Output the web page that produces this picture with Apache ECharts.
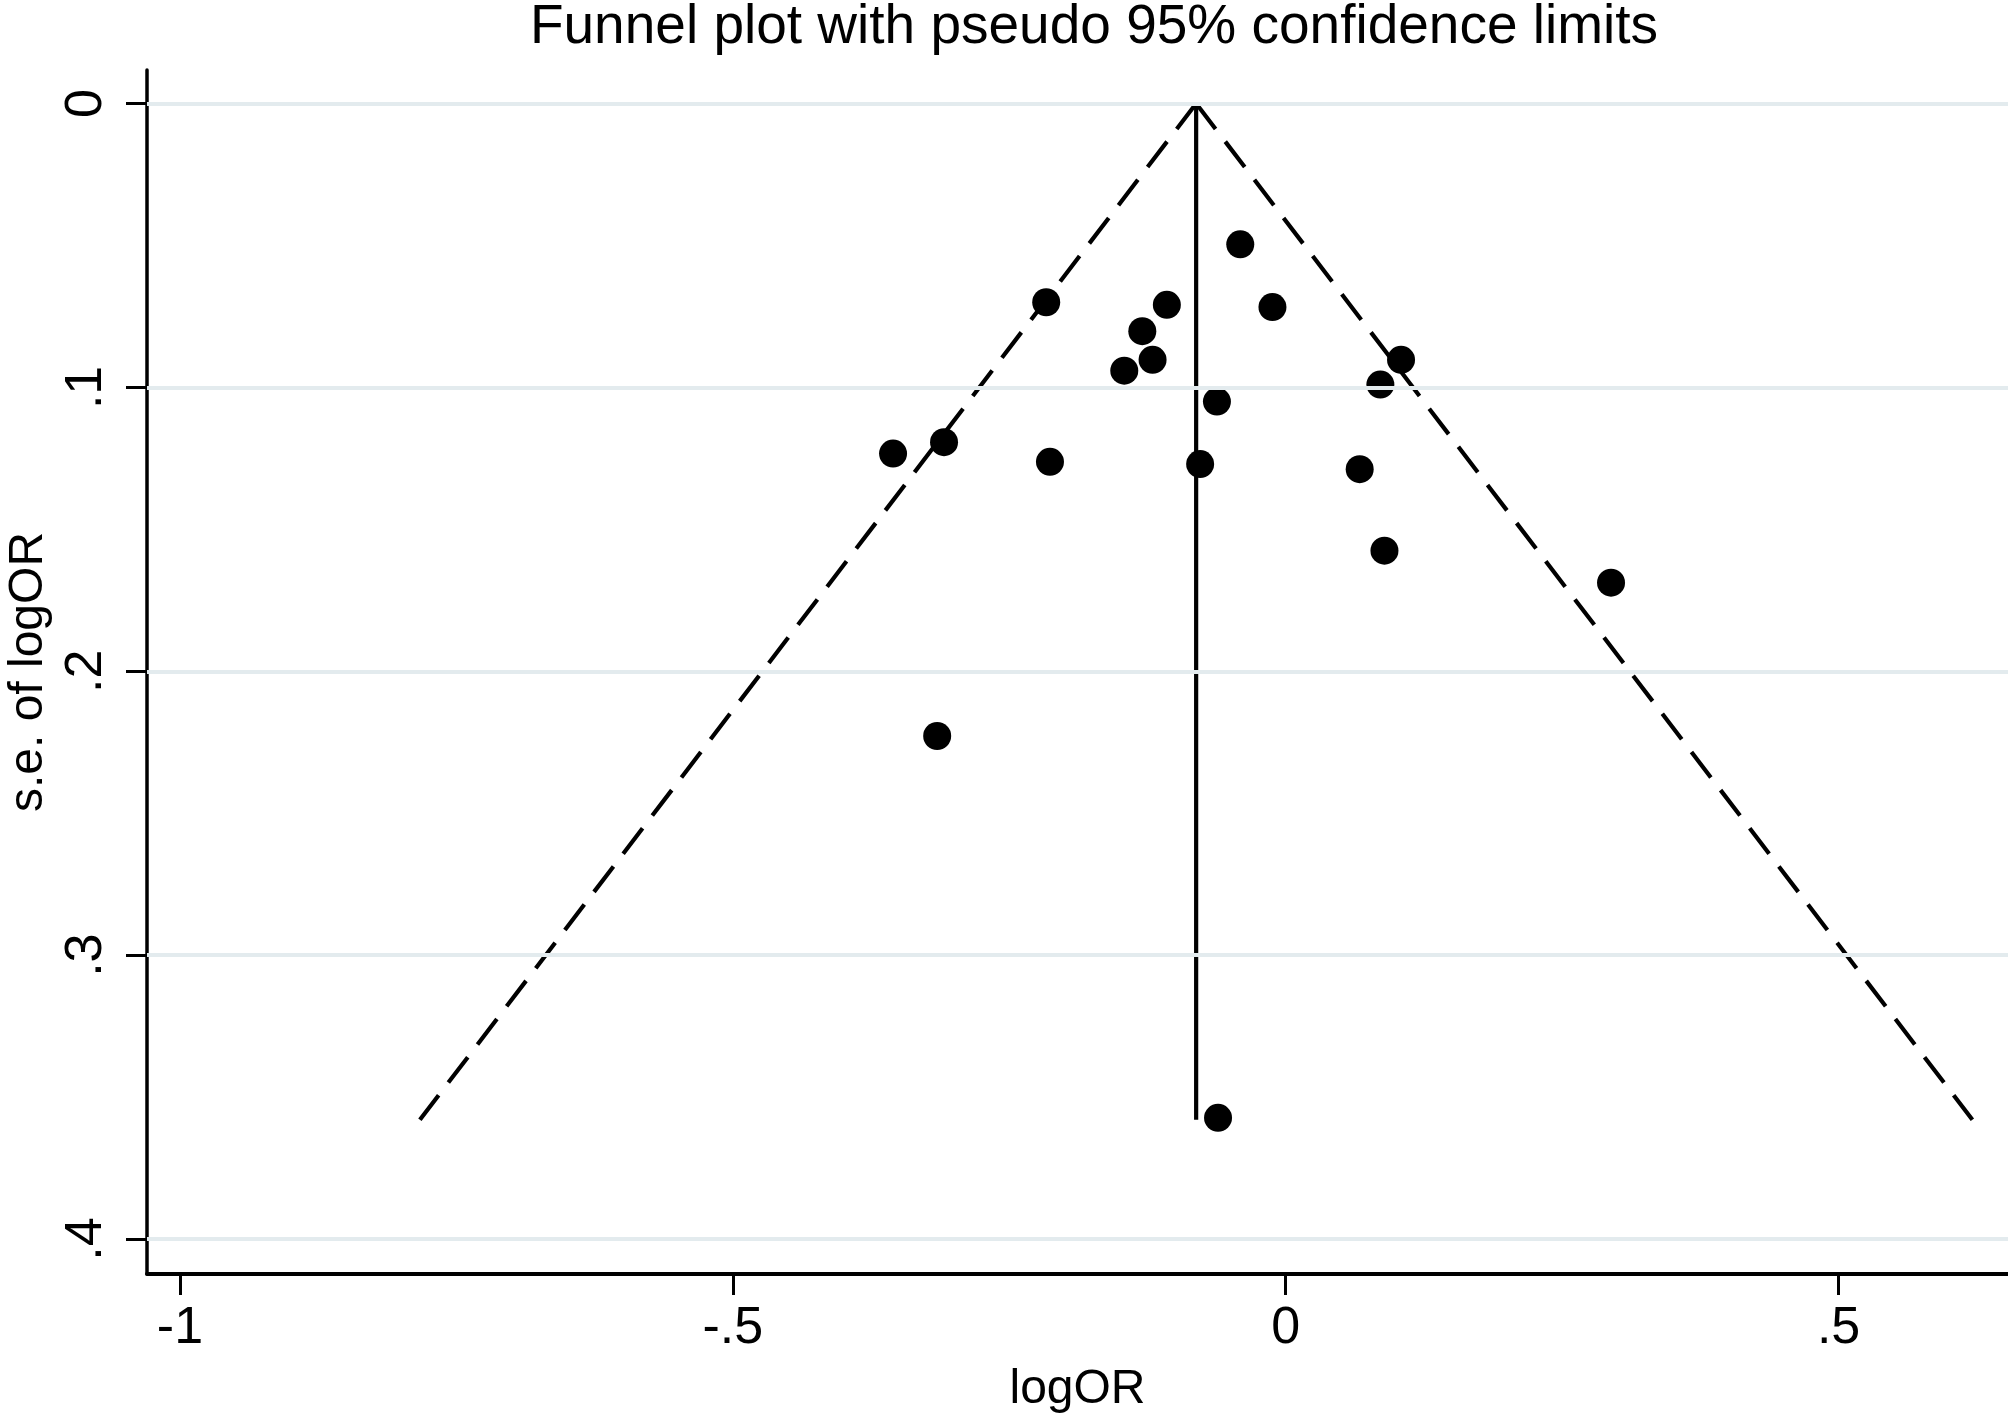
<!DOCTYPE html>
<html lang="en" style="height: 100%">
  <head>
    <meta charset="utf-8" />
  </head>
  <body style="height: 100%; margin: 0; background: #fff">
    <div id="container" style="height: 100%"></div>

    <script
      type="text/javascript"
      src="https://fastly.jsdelivr.net/npm/echarts@6/dist/echarts.min.js"
    ></script>

    <script type="text/javascript">
      // study estimates
      var studyLogOR = [
        -0.0411, -0.2166, -0.1075, -0.012, -0.1297, -0.1204, -0.146, 0.1043,
        0.0856, -0.0622, -0.3551, -0.309, -0.2132, -0.0774, 0.0669, 0.0893,
        0.2942, -0.3152, -0.0612,
      ];
      var studySE = [
        0.0496, 0.07, 0.0709, 0.0717, 0.0802, 0.0903, 0.0941, 0.0903, 0.099,
        0.105, 0.1233, 0.1193, 0.1262, 0.127, 0.1288, 0.1575, 0.1688, 0.2228,
        0.3573,
      ];

      // pooled estimate and pseudo 95% limits (apex first, then bottom)
      var centerLine = [[-0.081, 0], [-0.081, 0.358]];
      var lowerLimit = [[-0.081, 0], [-0.783, 0.358]];
      var upperLimit = [[-0.081, 0], [0.621, 0.358]];

      var xTicks = [-1, -0.5, 0, 0.5];
      var xTickLabels = ["-1", "-.5", "0", ".5"];
      var yTicks = [0, 0.1, 0.2, 0.3, 0.4];
      var yTickLabels = ["0", ".1", ".2", ".3", ".4"];

      var FONT = "Liberation Sans";

      var points = studyLogOR.map(function (v, i) {
        return [v, studySE[i]];
      });

      var dom = document.getElementById("container");
      var myChart = echarts.init(dom, null, { renderer: "canvas" });

      var option = {
        animation: false,
        backgroundColor: "#ffffff",
        title: {
          text: "Funnel plot with pseudo 95% confidence limits",
          left: 1094,
          textAlign: "center",
          top: 0,
          padding: 0,
          textStyle: {
            fontFamily: FONT,
            fontSize: 55,
            fontWeight: "normal",
            color: "#000",
          },
        },
        grid: {
          left: 147,
          right: 0,
          top: 70,
          bottom: 141,
          containLabel: false,
          outerBoundsMode: "none",
        },
        xAxis: {
          type: "value",
          min: -1.0298,
          max: 0.6532,
          name: "logOR",
          nameLocation: "middle",
          nameGap: 92,
          nameTextStyle: { fontFamily: FONT, fontSize: 48, color: "#000" },
          axisLine: { onZero: false, lineStyle: { color: "#000", width: 4 } },
          axisTick: {
            customValues: xTicks,
            length: 21,
            lineStyle: { color: "#000", width: 3 },
          },
          axisLabel: {
            customValues: xTicks,
            margin: 29,
            fontFamily: FONT,
            fontSize: 52,
            color: "#000",
            formatter: function (v) {
              var i = xTicks.indexOf(v);
              return i >= 0 ? xTickLabels[i] : "";
            },
          },
          splitLine: { show: false },
        },
        yAxis: {
          type: "value",
          inverse: true,
          min: -0.0118,
          max: 0.4123,
          name: "s.e. of logOR",
          nameLocation: "middle",
          nameGap: 92,
          nameTextStyle: { fontFamily: FONT, fontSize: 48, color: "#000" },
          axisLine: { onZero: false, lineStyle: { color: "#000", width: 3.5 } },
          axisTick: {
            customValues: yTicks,
            length: 21,
            lineStyle: { color: "#000", width: 3 },
          },
          axisLabel: {
            customValues: yTicks,
            rotate: 90,
            margin: 34,
            fontFamily: FONT,
            fontSize: 52,
            color: "#000",
            formatter: function (v) {
              var i = yTicks.indexOf(v);
              return i >= 0 ? yTickLabels[i] : "";
            },
          },
          splitLine: { show: false },
        },
        series: [
          {
            // horizontal grid lines at the y ticks
            type: "line",
            data: [],
            silent: true,
            z: 1,
            markLine: {
              silent: true,
              symbol: "none",
              label: { show: false },
              lineStyle: { color: "#e3ebee", width: 4, type: "solid" },
              data: yTicks.map(function (v) {
                return { yAxis: v };
              }),
            },
          },
          {
            type: "line",
            data: lowerLimit,
            symbol: "none",
            z: 2,
            lineStyle: { color: "#000", width: 4.2, type: [32, 16] },
          },
          {
            type: "line",
            data: upperLimit,
            symbol: "none",
            z: 2,
            lineStyle: { color: "#000", width: 4.2, type: [32, 16] },
          },
          {
            type: "line",
            data: centerLine,
            symbol: "none",
            z: 2,
            lineStyle: { color: "#000", width: 4.2, type: "solid" },
          },
          {
            type: "scatter",
            data: points,
            symbol: "circle",
            symbolSize: 28,
            z: 3,
            itemStyle: { color: "#000", opacity: 1 },
          },
        ],
      };

      myChart.setOption(option);
      window.addEventListener("resize", myChart.resize);
    </script>
  </body>
</html>
